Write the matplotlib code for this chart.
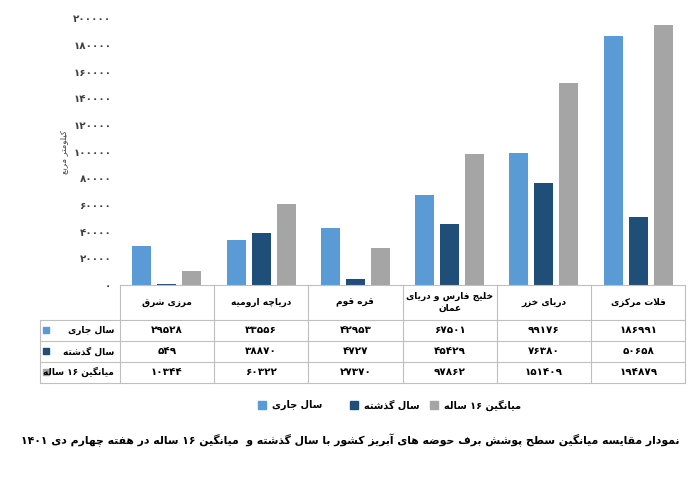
import re
import unicodedata

import matplotlib
matplotlib.use("Agg")
import matplotlib.pyplot as plt
import numpy as np

plt.rcParams["font.family"] = ["DejaVu Sans"]

categories = ["مرزی شرق", "دریاچه ارومیه", "قره قوم", "خلیج فارس و دریای\nعمان", "دریای خزر", "فلات مرکزی"]
series_names = ["سال جاری", "سال گذشته", "میانگین ۱۶ ساله"]
current_year = [29528, 33556, 42953, 67501, 99176, 186991]
last_year = [549, 38870, 4727, 45429, 76380, 50658]
avg_16 = [10344, 60322, 27370, 97862, 151409, 194879]
colors = ["#5B9BD5", "#1F4E79", "#A5A5A5"]
y_label = "کیلومتر مربع"
title = "نمودار مقایسه میانگین سطح پوشش برف حوضه های آبریز کشور با سال گذشته و  میانگین ۱۶ ساله در هفته چهارم دی ۱۴۰۱"

RIGHT_ONLY = set("اآأإدذرزژوؤة")


def is_letter(ch):
    return "\u0620" <= ch <= "\u06FF" and unicodedata.name(ch, "").startswith("ARABIC LETTER")


def form_of(ch, form):
    try:
        return unicodedata.lookup(f"{unicodedata.name(ch)} {form} FORM")
    except KeyError:
        return ch


def shape_line(text):
    out = []
    i = 0
    n = len(text)
    while i < n:
        ch = text[i]
        prev = text[i - 1] if i > 0 else ""
        joins_prev = bool(prev) and is_letter(prev) and prev not in RIGHT_ONLY
        if ch == "ل" and i + 1 < n and text[i + 1] in "اآأإ":
            alef = {"ا": "", "آ": " WITH MADDA ABOVE", "أ": " WITH HAMZA ABOVE", "إ": " WITH HAMZA BELOW"}[text[i + 1]]
            form = "FINAL" if joins_prev else "ISOLATED"
            out.append(unicodedata.lookup(f"ARABIC LIGATURE LAM WITH ALEF{alef} {form} FORM"))
            i += 2
            continue
        if is_letter(ch):
            nxt = text[i + 1] if i + 1 < n else ""
            joins_next = bool(nxt) and is_letter(nxt) and ch not in RIGHT_ONLY
            if joins_prev and joins_next:
                form = "MEDIAL"
            elif joins_prev:
                form = "FINAL"
            elif joins_next:
                form = "INITIAL"
            else:
                form = "ISOLATED"
            out.append(form_of(ch, form))
        else:
            out.append(ch)
        i += 1
    s = "".join(out)[::-1]
    return re.sub(r"[0-9\u06F0-\u06F9]+", lambda m: m.group()[::-1], s)


def fa(text):
    return "\n".join(shape_line(t) for t in text.split("\n"))


def fa_num(v):
    return str(v).translate(str.maketrans("0123456789", "۰۱۲۳۴۵۶۷۸۹"))


fig = plt.figure(figsize=(7, 4.78), dpi=100)
ax = fig.add_axes([0.171, 0.404, 0.808, 0.558])

x = np.arange(len(categories))
w = 0.2
for k, vals in enumerate([current_year, last_year, avg_16]):
    ax.bar(x + (k - 1) * 0.265, vals, w, color=colors[k])

ax.set_xlim(-0.5, len(categories) - 0.5)
ax.set_ylim(0, 200000)
yt = np.arange(0, 200001, 20000)
ax.set_yticks(yt)
ax.set_yticklabels([fa_num(v) for v in yt], fontsize=7.5, fontweight="bold", color="#404040")
ax.tick_params(length=0, pad=6)
ax.set_xticks([])
for s in ax.spines.values():
    s.set_visible(False)
ax.text(-0.1, 0.5, fa(y_label), transform=ax.transAxes, rotation=90, fontsize=6,
        ha="center", va="center", color="#404040")

# data table below the plot
px = 1 / 267.0  # axes fraction per pixel vertically
tr = ax.get_xaxis_transform()
rows_y = [0, -35 * px, -56 * px, -77 * px, -98 * px]
left = -1.35
lc = "#BFBFBF"
for yy in rows_y[1:]:
    ax.plot([left, 5.5], [yy, yy], transform=tr, color=lc, lw=0.8, clip_on=False)
ax.plot([-0.5, 5.5], [0, 0], transform=tr, color=lc, lw=0.8, clip_on=False)
for xv in np.arange(-0.5, 5.6, 1):
    ax.plot([xv, xv], [0, rows_y[-1]], transform=tr, color=lc, lw=0.8, clip_on=False)
ax.plot([left, left], [rows_y[1], rows_y[-1]], transform=tr, color=lc, lw=0.8, clip_on=False)

for i, c in enumerate(categories):
    ax.text(i, rows_y[1] / 2, fa(c), transform=tr, ha="center", va="center",
            fontsize=6.5, fontweight="bold", clip_on=False, linespacing=1.4)
for r, vals in enumerate([current_year, last_year, avg_16]):
    yc = (rows_y[r + 1] + rows_y[r + 2]) / 2
    ax.text(-0.56, yc, fa(series_names[r]), transform=tr, ha="right", va="center",
            fontsize=6.5, fontweight="bold", clip_on=False)
    ax.scatter([left + 0.07], [yc], transform=tr, marker="s", s=20, color=colors[r], clip_on=False)
    for i, v in enumerate(vals):
        ax.text(i, yc, fa_num(v), transform=tr, ha="center", va="center",
                fontsize=7.5, fontweight="bold", clip_on=False)

# legend: square on the left, text to its right
leg_y = 73 / 478
leg_sq = [258 / 700, 350 / 700, 430 / 700]
for k in range(3):
    fig.patches.append(plt.Rectangle((leg_sq[k], leg_y - 0.009), 0.011, 0.018,
                                     transform=fig.transFigure, color=colors[k]))
    fig.text(leg_sq[k] + 0.02, leg_y, fa(series_names[k]), ha="left", va="center",
             fontsize=7, fontweight="bold")

fig.text(0.5, 38 / 478, fa(title), ha="center", va="center", fontsize=7.8, fontweight="bold")

fig.savefig("out.png", dpi=100)
